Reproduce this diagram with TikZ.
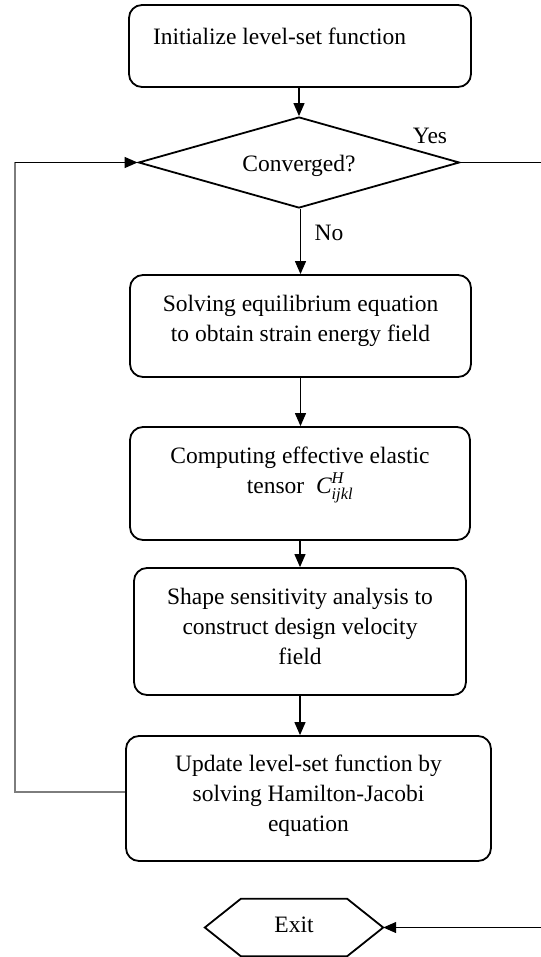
\documentclass[tikz,border=0pt]{standalone}
\usepackage{fontspec}
\usepackage{amsmath}
\setmainfont{Liberation Serif}
\usetikzlibrary{shapes.geometric,arrows.meta,calc}
\definecolor{retgray}{RGB}{125,125,125}
\begin{document}
\begin{tikzpicture}[x=1pt,y=-1pt,
  font=\fontsize{23.5}{30}\selectfont,
  box/.style={draw, line width=1.8pt, rounded corners=13pt, inner sep=0pt},
  arr/.style={line width=1.2pt, -{Triangle[length=13pt,width=11pt]}},
  lbl/.style={inner sep=0pt}]
\useasboundingbox (0,0) rectangle (540,957);

\node[box, minimum width=342pt, minimum height=82pt, text height=0pt, text depth=2pt] (init) at (300,46)
  {\makebox[294pt][l]{Initialize level-set function}};

\node[draw, line width=1.8pt, shape=diamond, aspect=3.5, minimum width=321pt, minimum height=91pt, inner sep=0pt,
  text height=19pt, text depth=0pt] (dia) at (299,162.5) {Converged?};

\node[box, minimum width=341pt, minimum height=102pt, text height=0pt, text depth=30pt] (b2) at (300.5,326)
  {\begin{tabular}[t]{@{}c@{}}Solving equilibrium equation\\to obtain strain energy field\end{tabular}};

\node[box, minimum width=340pt, minimum height=113pt, text height=0pt, text depth=41pt] (b3) at (300,483.5)
  {\begin{tabular}[t]{@{}c@{}}Computing effective elastic\\tensor\ \ $\text{\itshape C}^{\text{\itshape H}}_{\text{\itshape ijkl}}$\end{tabular}};

\node[box, minimum width=332pt, minimum height=127pt, text height=0pt, text depth=55pt] (b4) at (300,631.5)
  {\begin{tabular}[t]{@{}c@{}}Shape sensitivity analysis to\\construct design velocity\\field\end{tabular}};

\node[box, minimum width=365pt, minimum height=125pt, text height=0pt, text depth=55pt] (b5) at (308.5,798.5)
  {\begin{tabular}[t]{@{}c@{}}Update level-set function by\\solving Hamilton-Jacobi\\equation\end{tabular}};

\node[minimum width=178pt, minimum height=57pt, inner sep=0pt, text height=10pt, text depth=0pt] (exit) at (294,927.5) {Exit};
\draw[line width=1.8pt] (exit.west) -- ($(exit.north west)+(36,0)$) -- ($(exit.north east)+(-36,0)$)
  -- (exit.east) -- ($(exit.south east)+(-36,0)$) -- ($(exit.south west)+(36,0)$) -- cycle;

\node[lbl] (yes) at (430,135.5) {Yes};
\node[lbl] (no) at (329,233) {No};

\coordinate (lc) at (15,792);
\coordinate (lt) at (15,162.5);
\coordinate (rc) at (548,162.5);

\draw[arr] (dia.north |- init.south) -- (dia.north);
\draw[arr] (b2.north |- dia.south) -- (b2.north);
\draw[arr] (b2.south) -- (b2.south |- b3.north);
\draw[arr] (b3.south) -- (b3.south |- b4.north);
\draw[arr] (b4.south) -- (b4.south |- b5.north);
\draw[color=retgray, line width=1.5pt] (b5.west |- lc) -- (lc) -- (lt);
\draw[arr] (lt) -- (dia.west);
\draw[arr] (dia.east) -- (rc) |- (exit.east);
\end{tikzpicture}
\end{document}
